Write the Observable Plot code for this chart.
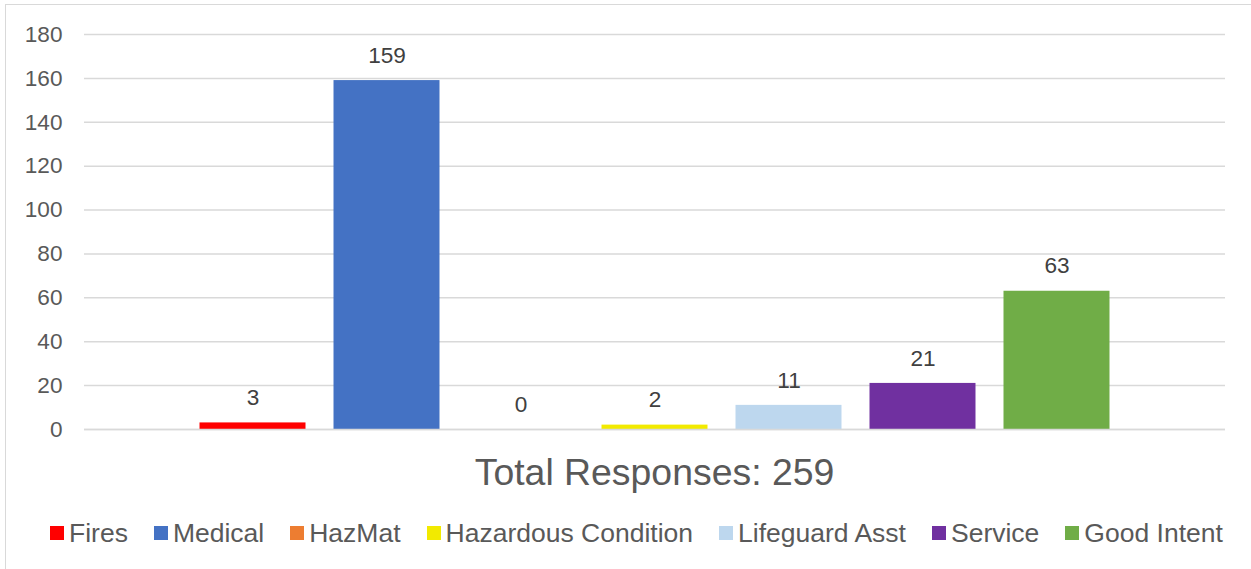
<!DOCTYPE html>
<html>
<head>
<meta charset="utf-8">
<script src="https://cdn.jsdelivr.net/npm/d3@7"></script>
<script src="https://cdn.jsdelivr.net/npm/@observablehq/plot@0.6"></script>
<style>
  html, body { margin: 0; padding: 0; background: #fff; overflow: hidden; }
  #wrap { position: relative; width: 1251px; height: 569px; font-family: Arial, "Liberation Sans", sans-serif; }
  #frame { position: absolute; left: 5px; top: 4px; width: 1260px; height: 580px; border: 1.5px solid #D9D9D9; box-sizing: border-box; }
  #chart { position: absolute; left: 0; top: 0; }
  #title { position: absolute; left: 0; width: 1251px; top: 449px; text-align: center; font-size: 37.4px; color: #595959; line-height: 46px; padding-left: 58px; box-sizing: border-box; }
  #legend { position: absolute; left: 50px; top: 516px; display: flex; align-items: center; font-size: 26.5px; color: #595959; white-space: nowrap; line-height: 34px; }
  .item { display: flex; align-items: center; margin-right: 26px; }
  .sw { width: 14px; height: 14px; margin-right: 5px; display: inline-block; }
</style>
</head>
<body>
<div id="wrap">
  <div id="frame"></div>
  <div id="chart"></div>
  <div id="title"></div>
  <div id="legend"></div>
</div>
<script>
const categories = ["Fires", "Medical", "HazMat", "Hazardous Condition", "Lifeguard Asst", "Service", "Good Intent"];
const values = [3, 159, 0, 2, 11, 21, 63];
const colors = ["#FF0000", "#4472C4", "#ED7D31", "#F2EA00", "#BDD7EE", "#7030A0", "#70AD47"];
const yTicks = [0, 20, 40, 60, 80, 100, 120, 140, 160, 180];
const totalLabel = "Total Responses: 259";

const data = categories.map((c, i) => ({category: c, value: values[i], color: colors[i]}));

const plot = Plot.plot({
  width: 1251,
  height: 450,
  marginTop: 34,
  marginBottom: 21,
  marginLeft: 84,
  marginRight: 26,
  style: {fontFamily: "Arial, 'Liberation Sans', sans-serif", fontSize: "22.6px", color: "#595959", background: "transparent"},
  x: {domain: categories, paddingInner: 0.209, paddingOuter: 0.862, round: false, axis: null},
  y: {domain: [0, 180], ticks: yTicks},
  marks: [
    Plot.gridY(yTicks, {stroke: "#D9D9D9", strokeOpacity: 1, strokeWidth: 1.5}),
    Plot.axisY(yTicks, {tickSize: 0, tickPadding: 22, label: null, fontSize: 22.6, fill: "#595959"}),
    Plot.barY(data, {x: "category", y: "value", fill: "color"}),
    Plot.ruleY([0], {stroke: "#D9D9D9", strokeWidth: 1.5}),
    Plot.text(data, {x: "category", y: "value", text: d => String(d.value), dy: -25, fill: "#404040", fontSize: 22.6})
  ]
});
document.getElementById("chart").appendChild(plot);

document.getElementById("title").textContent = totalLabel;

const legend = document.getElementById("legend");
categories.forEach((c, i) => {
  const item = document.createElement("div");
  item.className = "item";
  const sw = document.createElement("span");
  sw.className = "sw";
  sw.style.background = colors[i];
  const t = document.createElement("span");
  t.textContent = c;
  item.appendChild(sw);
  item.appendChild(t);
  legend.appendChild(item);
});
</script>
</body>
</html>
